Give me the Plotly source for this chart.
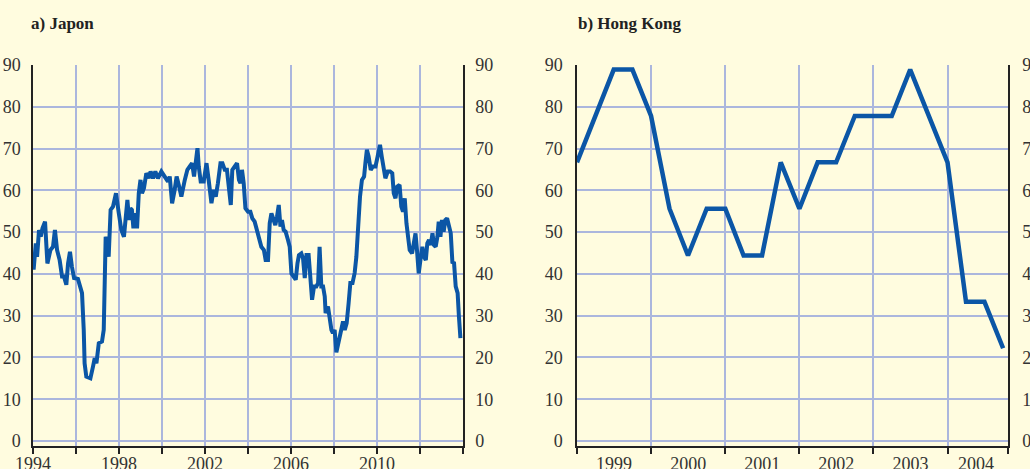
import plotly.graph_objects as go

# Japon : indice (lecture approximative du graphique), abscisse en années décimales
JAPON_ANNEES = [
    1994.03, 1994.13, 1994.19, 1994.28, 1994.36, 1994.44, 1994.56, 1994.67, 1994.81, 1994.93,
    1995.02, 1995.12, 1995.24, 1995.35, 1995.44, 1995.55, 1995.63, 1995.72, 1995.81, 1995.91,
    1996.09, 1996.28, 1996.36, 1996.40, 1996.48, 1996.67, 1996.79, 1996.87, 1996.95,
    1997.06, 1997.21, 1997.29, 1997.38, 1997.46, 1997.52, 1997.61, 1997.72, 1997.86, 1997.99,
    1998.11, 1998.23, 1998.31, 1998.39, 1998.47, 1998.53, 1998.60, 1998.67, 1998.76, 1998.84, 1998.92,
    1999.00, 1999.07, 1999.16, 1999.27, 1999.38, 1999.47, 1999.58, 1999.69, 1999.81, 1999.97,
    2000.13, 2000.28, 2000.36, 2000.47, 2000.59, 2000.68, 2000.78, 2000.90,
    2001.06, 2001.18, 2001.29, 2001.40, 2001.49, 2001.58, 2001.65, 2001.71, 2001.80, 2001.94,
    2002.07, 2002.17, 2002.30, 2002.40, 2002.50, 2002.60, 2002.72, 2002.81, 2002.92,
    2003.02, 2003.12, 2003.20, 2003.27, 2003.38, 2003.49, 2003.58, 2003.65, 2003.72, 2003.80, 2003.88,
    2004.00, 2004.11, 2004.20, 2004.31, 2004.42, 2004.51, 2004.62, 2004.74, 2004.82, 2004.93,
    2005.01, 2005.09, 2005.16, 2005.27, 2005.35, 2005.43, 2005.51, 2005.58, 2005.66, 2005.75, 2005.86, 2005.94,
    2006.02, 2006.14, 2006.22, 2006.30, 2006.37, 2006.48, 2006.56, 2006.64, 2006.72, 2006.82, 2006.90, 2006.98,
    2007.07, 2007.18, 2007.26, 2007.33, 2007.41, 2007.49, 2007.57, 2007.61, 2007.72, 2007.80, 2007.88, 2007.95,
    2008.03, 2008.11, 2008.22, 2008.31, 2008.42, 2008.50, 2008.59, 2008.68, 2008.76, 2008.86, 2008.96,
    2009.04, 2009.12, 2009.21, 2009.30, 2009.40, 2009.46, 2009.53, 2009.61, 2009.71, 2009.81, 2009.93,
    2010.03, 2010.14, 2010.22, 2010.30, 2010.39, 2010.50, 2010.61, 2010.71, 2010.78, 2010.86, 2010.94,
    2011.05, 2011.13, 2011.21, 2011.29, 2011.37, 2011.44, 2011.52, 2011.63, 2011.71, 2011.79, 2011.86, 2011.94,
    2012.02, 2012.11, 2012.19, 2012.27, 2012.34, 2012.42, 2012.50, 2012.58, 2012.65, 2012.73, 2012.81, 2012.87, 2012.95,
    2013.02, 2013.10, 2013.18, 2013.26, 2013.34, 2013.43, 2013.51, 2013.58, 2013.66, 2013.75, 2013.81, 2013.88,
]
JAPON_VALEURS = [
    41.0, 47.3, 44.1, 50.5, 48.9, 50.9, 52.5, 42.5, 45.7, 46.5,
    50.5, 45.7, 43.3, 39.4, 39.4, 37.4, 42.5, 45.3, 41.7, 39.0,
    38.8, 35.4, 26.6, 18.6, 15.4, 15.0, 17.8, 19.8, 18.6,
    23.4, 23.8, 26.6, 48.9, 47.3, 44.1, 55.3, 56.1, 59.3, 54.5,
    50.5, 48.9, 53.7, 57.7, 52.9, 55.7, 55.3, 50.9, 54.5, 50.9, 59.3,
    62.5, 59.3, 60.5, 64.1, 62.9, 64.5, 62.9, 64.5, 62.9, 64.5,
    63.3, 62.1, 63.3, 56.9, 60.1, 63.3, 61.3, 58.5,
    62.5, 64.9, 65.7, 66.5, 63.3, 67.3, 70.1, 65.7, 62.1, 62.1,
    66.5, 62.5, 56.9, 60.1, 58.5, 61.7, 66.5, 66.5, 64.9,
    64.9, 60.1, 56.5, 64.9, 65.7, 66.5, 62.5, 61.7, 64.9, 61.7, 55.7,
    54.9, 54.9, 53.3, 52.5, 50.5, 48.5, 46.5, 45.7, 43.3, 43.3,
    52.1, 54.5, 53.3, 51.7, 53.7, 56.5, 51.3, 52.9, 50.5, 50.1, 48.1, 46.5,
    40.1, 39.4, 38.6, 42.5, 44.5, 44.9, 43.7, 39.0, 44.5, 44.5, 38.6, 33.8,
    37.0, 37.0, 37.8, 46.5, 37.0, 37.0, 34.6, 30.6, 32.2, 29.0, 26.6, 25.8,
    26.6, 21.2, 23.6, 26.0, 28.6, 26.6, 28.2, 33.0, 37.8, 37.8, 40.2,
    44.1, 52.1, 58.5, 62.5, 63.3, 66.5, 69.7, 68.1, 64.9, 65.7, 65.7,
    68.1, 70.9, 68.1, 65.7, 62.9, 64.5, 64.5, 64.1, 59.3, 58.1, 60.9,
    61.3, 56.1, 54.9, 58.1, 52.1, 48.9, 45.7, 44.9, 47.7, 49.7, 45.7, 40.1,
    43.3, 46.5, 44.1, 43.3, 47.3, 48.1, 46.9, 49.7, 46.9, 46.5, 48.9, 52.5, 48.9,
    52.9, 50.1, 52.9, 53.3, 51.3, 49.7, 42.5, 42.9, 37.0, 35.4, 29.8, 24.6,
]

# Hong Kong : données trimestrielles 1999T1 - 2004T4
HK_TRIMESTRES = [f"{a}-{m:02d}-01" for a in range(1999, 2005) for m in (1, 4, 7, 10)]
HK_VALEURS = [
    66.7, 77.8, 88.9, 88.9,
    77.8, 55.6, 44.4, 55.6,
    55.6, 44.4, 44.4, 66.7,
    55.6, 66.7, 66.7, 77.8,
    77.8, 77.8, 88.9, 77.8,
    66.7, 33.3, 33.3, 22.2,
]

JAPON_TICKS = list(range(1994, 2015, 2))
JAPON_LABELS = ["1994", "", "1998", "", "2002", "", "2006", "", "2010", "", ""]
HK_ANNEES = ["1999", "2000", "2001", "2002", "2003", "2004"]
HK_LABEL_POS = ["1999-07-02", "2000-07-02", "2001-07-02", "2002-07-02", "2003-07-02", "2004-05-20"]

LIGNE = "#0b56a6"
FOND = "#fffcdf"
GRILLE = "#abb6dd"
AXE = "#222222"
POLICE = "Liberation Serif"

W, H = 1030, 469


def px_x(p):
    return p / W


def px_y(p):
    return 1 - p / H


fig = go.Figure()
fig.add_trace(go.Scatter(x=JAPON_ANNEES, y=JAPON_VALEURS, mode="lines",
                         line=dict(color=LIGNE, width=4), xaxis="x", yaxis="y",
                         showlegend=False))
# traces invisibles pour faire apparaître les axes secondaires
fig.add_trace(go.Scatter(x=JAPON_ANNEES, y=JAPON_VALEURS, mode="lines",
                         line=dict(width=0), opacity=0, hoverinfo="skip",
                         xaxis="x", yaxis="y2", showlegend=False))
fig.add_trace(go.Scatter(x=HK_TRIMESTRES, y=HK_VALEURS, mode="lines",
                         line=dict(color=LIGNE, width=4.5), xaxis="x3", yaxis="y3",
                         showlegend=False))
fig.add_trace(go.Scatter(x=HK_TRIMESTRES, y=HK_VALEURS, mode="lines",
                         line=dict(width=0), opacity=0, hoverinfo="skip",
                         xaxis="x3", yaxis="y4", showlegend=False))
fig.add_trace(go.Scatter(x=HK_TRIMESTRES, y=HK_VALEURS, mode="lines",
                         line=dict(width=0), opacity=0, hoverinfo="skip",
                         xaxis="x4", yaxis="y3", showlegend=False))

tickfont = dict(family=POLICE, size=18, color="#333333")
y_dom = [px_y(446), px_y(65)]
y_range = [-1.2, 90]

yaxis_common = dict(domain=y_dom, range=y_range, tickvals=list(range(0, 91, 10)),
                    tickfont=tickfont, ticks="", showline=True, linecolor=AXE,
                    linewidth=1.5, zeroline=False, automargin=False, fixedrange=True)

fig.update_layout(
    width=W, height=H,
    margin=dict(l=0, r=0, t=0, b=0),
    paper_bgcolor=FOND, plot_bgcolor=FOND,
    xaxis=dict(domain=[px_x(33), px_x(463)], range=[1994, 2014], anchor="y",
               tickvals=JAPON_TICKS, ticktext=JAPON_LABELS, tickfont=tickfont,
               showgrid=True, gridcolor=GRILLE, gridwidth=1.5,
               showline=True, linecolor=AXE, linewidth=2,
               ticks="outside", ticklen=6, tickwidth=2, tickcolor=AXE,
               ticklabelstandoff=-6, zeroline=False, automargin=False),
    yaxis=dict(anchor="x", side="left", showgrid=True, gridcolor=GRILLE,
               gridwidth=1.5, ticklabelstandoff=7, **yaxis_common),
    yaxis2=dict(anchor="x", overlaying="y", side="right", showgrid=False,
                ticklabelstandoff=7, **yaxis_common),
    xaxis3=dict(domain=[px_x(577), px_x(1008)], type="date",
                range=["1999-01-01", "2004-10-25"], anchor="y3",
                tickvals=[f"{a}-01-01" for a in range(1999, 2005)] + ["2004-10-25"],
                ticktext=[""] * 7, showgrid=True, gridcolor=GRILLE, gridwidth=1.5,
                showline=True, linecolor=AXE, linewidth=2,
                ticks="outside", ticklen=6, tickwidth=2, tickcolor=AXE,
                zeroline=False, automargin=False),
    xaxis4=dict(domain=[px_x(577), px_x(1008)], type="date", overlaying="x3",
                range=["1999-01-01", "2004-10-25"], anchor="y3", side="bottom",
                tickvals=HK_LABEL_POS, ticktext=HK_ANNEES, tickfont=tickfont,
                showgrid=False, showline=False, ticks="", ticklabelstandoff=5,
                zeroline=False, automargin=False),
    yaxis3=dict(anchor="x3", side="left", showgrid=True, gridcolor=GRILLE,
                gridwidth=1.5, ticklabelstandoff=9, **yaxis_common),
    yaxis4=dict(anchor="x3", overlaying="y3", side="right", showgrid=False,
                ticklabelstandoff=9, **yaxis_common),
)

titre_font = dict(family=POLICE, size=17, color="#222222")
fig.add_annotation(text="<b>a) Japon</b>", xref="paper", yref="paper",
                   x=px_x(29), y=px_y(24), xanchor="left", yanchor="middle",
                   showarrow=False, font=titre_font)
fig.add_annotation(text="<b>b) Hong Kong</b>", xref="paper", yref="paper",
                   x=px_x(576), y=px_y(24), xanchor="left", yanchor="middle",
                   showarrow=False, font=titre_font)

# la figure occupe toute la fenêtre : pas de marge de page ni de barre d'outils
fig.write_html("out.html", config={"displayModeBar": False},
               post_script="document.body.style.margin='0';"
                           "document.body.style.overflow='hidden';")
